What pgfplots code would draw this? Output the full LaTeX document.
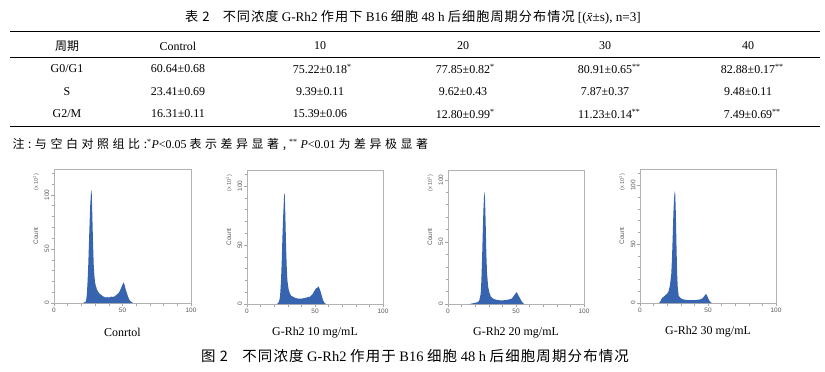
\documentclass[border=0pt]{standalone}
\usepackage{fontspec}
\setmainfont{Liberation Serif}
\setsansfont{Liberation Sans}
\newfontfamily\cjk{Noto Sans CJK SC}
\newfontfamily\cjkt[LetterSpace=8]{Noto Sans CJK SC}
\newfontfamily\cjkn[LetterSpace=30]{Noto Sans CJK SC}
\usepackage{pgfplots}
\pgfplotsset{compat=1.18}
\definecolor{histblue}{RGB}{55,100,175}
\newcommand{\st}[1]{\rlap{\textsuperscript{#1}}}
\pgfplotsset{
  fcm/.style={
    scale only axis, width=136bp, height=134bp,
    xmin=0, xmax=100, ymin=0,
    xtick={0,50,100}, minor xtick={10,20,30,40,60,70,80,90},
    ytick={0,50,100}, minor ytick={10,20,30,40,60,70,80,90,110,120},
    tick align=outside, tick pos=left,
    major tick length=3bp, minor tick length=2.5bp,
    axis line style={gray!60, line width=0.6bp},
    every tick/.style={gray!70, line width=0.5bp},
    /pgf/number format/assume math mode=true,
    tick label style={font=\sffamily\fontsize{6.5}{7}\selectfont, text=gray!70!black},
    yticklabel style={rotate=90, anchor=south, inner sep=1.5bp},
    xticklabel style={inner sep=2bp},
    clip=false,
  }
}
\newcommand{\decor}[1]{%
  \node[rotate=90, font=\sffamily\fontsize{6.5}{7}\selectfont, text=gray!70!black] at ([xshift=-18bp]rel axis cs:0,0.5) {Count};
  \node[rotate=90, font=\sffamily\fontsize{5.5}{6}\selectfont, text=gray!70!black] at ([xshift=-18bp]rel axis cs:0,0.9) {(x 10$^{\mathsf{1}}$)};
  \node[font=\fontsize{12}{14}\selectfont] at ([yshift=-29bp]rel axis cs:0.5,0) {#1};
}
\begin{document}
\begin{tikzpicture}[x=1bp,y=1bp]
\path[use as bounding box] (0,0) rectangle (825,371);
% ---- table ----
\node[font=\fontsize{13.2}{15}\selectfont] at (413,354) {{\cjkt 表 2}\hspace{1em}{\cjkt 不同浓度} G-Rh2 {\cjkt 作用下} B16 {\cjkt 细胞} 48 h {\cjkt 后细胞周期分布情况} [({\itshape x̄}±s), n=3]};
\draw[line width=1bp] (10,339) -- (820,339);
\draw[line width=0.5bp] (10,314) -- (820,314);
\draw[line width=1bp] (10,245) -- (820,245);
\begin{scope}[every node/.style={font=\fontsize{12}{14}\selectfont}]
\node at (67,325) {\cjk 周期};
\node at (178,325) {Control};
\node at (320,325) {10};
\node at (463,325) {20};
\node at (605,325) {30};
\node at (748,325) {40};
\node at (67,302) {G0/G1};
\node at (178,302) {60.64±0.68};
\node at (320,302) {75.22±0.18\st{*}};
\node at (463,302) {77.85±0.82\st{*}};
\node at (605,302) {80.91±0.65\st{**}};
\node at (748,302) {82.88±0.17\st{**}};
\node at (67,279.5) {S};
\node at (178,279.5) {23.41±0.69};
\node at (320,279.5) {9.39±0.11};
\node at (463,279.5) {9.62±0.43};
\node at (605,279.5) {7.87±0.37};
\node at (748,279.5) {9.48±0.11};
\node at (67,257) {G2/M};
\node at (178,257) {16.31±0.11};
\node at (320,257) {15.39±0.06};
\node at (463,257) {12.80±0.99\st{*}};
\node at (605,257) {11.23±0.14\st{**}};
\node at (748,257) {7.49±0.69\st{**}};
\end{scope}
\node[anchor=west, font=\fontsize{12}{13}\selectfont] at (9,226) {{\cjkn 注:与空白对照组比:}\textsuperscript{*}\textit{P}<0.05 {\cjkn 表示差异显著,} \textsuperscript{**} \textit{P}<0.01 {\cjkn 为差异极显著}};
% ---- histograms ----
\begin{axis}[fcm, at={(54bp,68bp)}, anchor=south west, width=137bp, ymax=124]
\addplot[fill=histblue, draw=none] coordinates {
(21,0) (22,0.5) (23,1) (23.5,3) (24,8) (24.5,20) (25,35) (25.5,55) (26,75) (26.5,92) (27,102) (27.3,105) (27.6,100) (28,80) (28.5,55) (29,35) (29.5,25) (30,19) (30.5,16) (31,14) (31.5,12) (32,11) (33,9) (34,8) (35,7) (36,6) (37,5.5) (38,5) (39,5.5) (40,5) (41,5.5) (42,6) (43,5.5) (44,6) (45,7) (46,8) (47,9) (48,11) (49,14) (50,17) (50.7,19) (51.5,17) (52,14) (53,10) (54,6) (55,3) (56,1.5) (57,0.5) (58,0)
} \closedcycle;
\decor{Conrtol}
\end{axis}
\begin{axis}[fcm, at={(247bp,67bp)}, anchor=south west, ymax=113.6]
\addplot[fill=histblue, draw=none] coordinates {
(22,0) (23,1) (24,4) (24.5,10) (25,20) (25.5,35) (26,55) (26.5,72) (27,85) (27.4,94) (27.8,92) (28.2,75) (28.7,50) (29.2,32) (29.7,20) (30.5,13) (31.5,9) (32.5,7) (34,6) (36,5) (38,4.5) (40,4.5) (42,5) (44,5.5) (45,6) (46,6) (47,7) (48,8) (49,10) (50,12) (51,13.5) (52,14) (52.5,15) (53,14) (54,11) (55,7) (56,3) (57,1) (58,0)
} \closedcycle;
\decor{G-Rh2 10 mg/mL}
\end{axis}
\begin{axis}[fcm, at={(448bp,67bp)}, anchor=south west, ymax=108]
\addplot[fill=histblue, draw=none] coordinates {
(16,0) (18,0.5) (20,1) (22,1.5) (23,3) (24,8) (24.5,18) (25,35) (25.5,55) (26,75) (26.5,87) (26.8,90.5) (27.2,85) (27.7,65) (28.2,40) (28.7,25) (29.5,14) (30.5,9) (31.5,6) (33,4.5) (35,3.5) (38,3) (41,3) (44,3.5) (46,4) (47,4.5) (48,6) (49,7.5) (50,9) (50.5,9.5) (51,8.5) (52,6.5) (53,4.5) (54,2.5) (55,1) (56,0)
} \closedcycle;
\decor{G-Rh2 20 mg/mL}
\end{axis}
\begin{axis}[fcm, at={(640bp,68bp)}, anchor=south west, ymax=114]
\addplot[fill=histblue, draw=none] coordinates {
(14,0) (15,1.5) (16,4) (17,5) (18,6) (19,7) (20,8) (21,10) (22,15) (23,25) (23.5,38) (24,55) (24.5,75) (25,88) (25.5,95) (25.9,93) (26.3,78) (26.8,50) (27.3,25) (27.8,12) (28.5,6) (30,4) (32,3) (35,2.5) (38,2.5) (41,2.5) (44,3) (46,4) (47,5.5) (48,7) (48.5,7.7) (49,7) (50,4.5) (51,2) (52,0.5) (53,0)
} \closedcycle;
\decor{G-Rh2 30 mg/mL}
\end{axis}
% ---- caption ----
\node[font=\fontsize{14.5}{16}\selectfont] at (415,15) {{\cjkt 图 2}\hspace{1em}{\cjkt 不同浓度} G-Rh2 {\cjkt 作用于} B16 {\cjkt 细胞} 48 h {\cjkt 后细胞周期分布情况}};
\end{tikzpicture}
\end{document}
